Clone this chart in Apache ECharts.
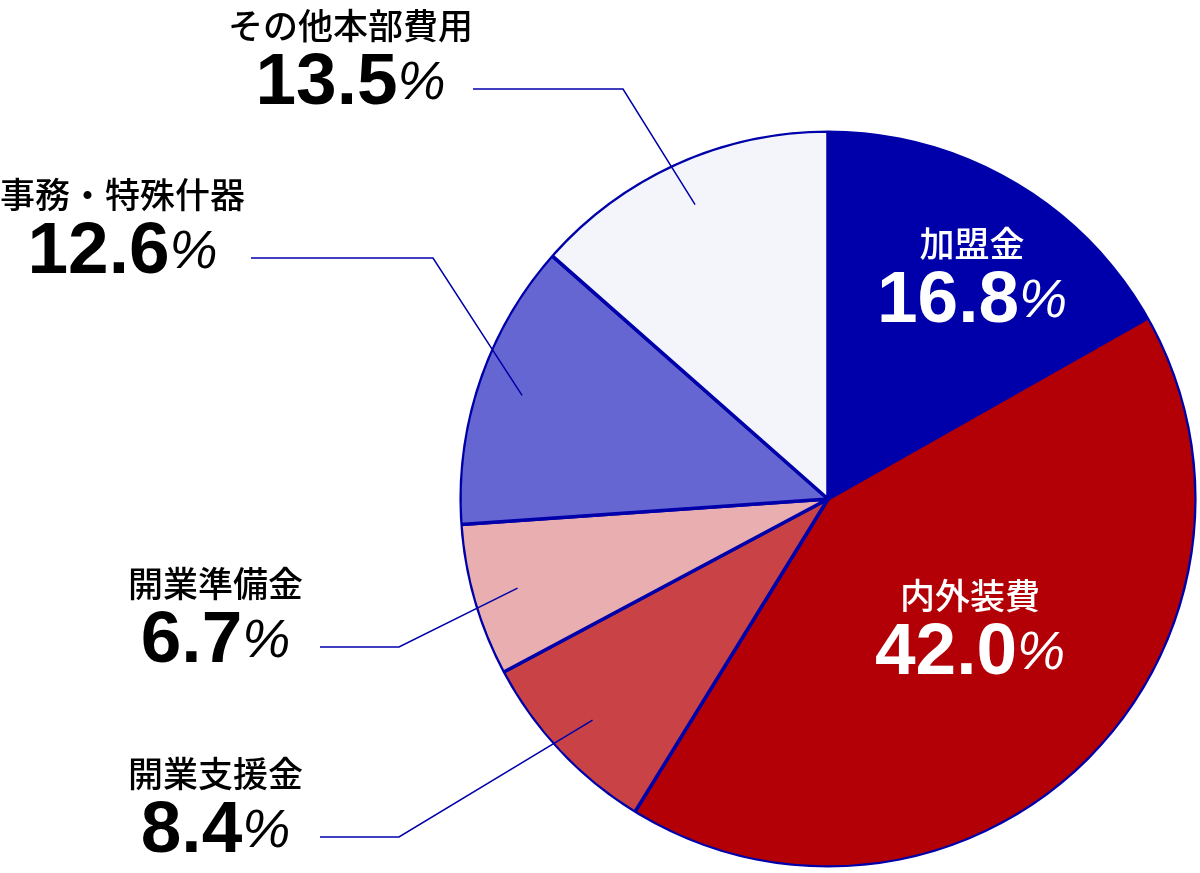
<!DOCTYPE html>
<html>
<head>
<meta charset="utf-8">
<script src="https://cdn.jsdelivr.net/npm/echarts@6/dist/echarts.min.js"></script>
</head>
<body style="margin:0; background:#fff">
<div id="container" style="width:1200px; height:873px"></div>
<script type="text/javascript">
// 費用の内訳 (%)
var names = ['加盟金', '内外装費', '開業支援金', '開業準備金', '事務・特殊什器', 'その他本部費用'];
var shares = [16.8, 42.0, 8.4, 6.7, 12.6, 13.5];
var colors = ['#0000aa', '#b20006', '#c84246', '#e8aeb0', '#6666d2', '#f4f5fa'];

// label placement (pixels)
var innerAnchors = [[972, 282], [970, 634]];
var outerAnchors = [null, null, [320, 837], [320, 647], [251, 258], [473, 89]];
var elbowLen = [0, 0, 79, 79, 182, 150];
var padRight = [0, 0, 17, 17, 6, 0];

var lineBlue = '#0000aa';
var center = [828, 499];

function fmt(p) {
    return '{n|' + p.name + '}\n{v|' + p.value.toFixed(1) + '}{p|%}';
}
function makeRich(color) {
    return {
        n: {fontFamily: 'Noto Sans CJK JP', fontSize: 35, fontWeight: 500, lineHeight: 40, align: 'center', color: color},
        v: {fontFamily: 'Liberation Sans', fontSize: 73, fontWeight: 'bold', lineHeight: 76, align: 'center', color: color},
        p: {fontFamily: 'Liberation Sans', fontSize: 54, fontStyle: 'italic', lineHeight: 76, align: 'center', color: color}
    };
}

var myChart = echarts.init(document.getElementById('container'));

var option = {
    animation: false,
    series: [
        {
            name: 'fill',
            type: 'pie',
            center: center,
            radius: 368,
            startAngle: 90,
            clockwise: true,
            avoidLabelOverlap: false,
            itemStyle: {borderColor: lineBlue, borderWidth: 3.5},
            label: {show: true, position: 'inside', color: '#fff', formatter: fmt, rich: makeRich('#fff')},
            labelLine: {show: false},
            labelLayout: function (p) {
                var a = innerAnchors[p.dataIndex];
                return a ? {x: a[0], y: a[1]} : {};
            },
            emphasis: {disabled: true},
            data: names.map(function (n, i) {
                return {name: n, value: shares[i], itemStyle: {color: colors[i]}, label: {show: i < 2}};
            })
        },
        {
            // trims the outer half of the border so the rim stays thin
            name: 'rim',
            type: 'pie',
            silent: true,
            center: center,
            radius: [368.6, 374],
            label: {show: false},
            labelLine: {show: false},
            itemStyle: {color: '#fff', borderWidth: 0},
            data: [{value: 1, name: 'rim'}]
        },
        {
            name: 'labels',
            type: 'pie',
            silent: true,
            z: 5,
            center: center,
            radius: 323,
            startAngle: 90,
            clockwise: true,
            itemStyle: {color: 'rgba(0,0,0,0)', borderWidth: 0},
            label: {
                show: true,
                position: 'outside',
                color: '#000',
                formatter: fmt,
                rich: makeRich('#000'),
                backgroundColor: 'rgba(255,255,255,0)'
            },
            labelLine: {show: true, length: 10, lineStyle: {color: lineBlue, width: 1.5}},
            labelLayout: function (p) {
                var a = outerAnchors[p.dataIndex];
                return a ? {x: a[0], y: a[1]} : {};
            },
            data: names.map(function (n, i) {
                var outside = i >= 2;
                return {
                    name: n,
                    value: shares[i],
                    label: {show: outside, padding: [0, padRight[i], 50, 0]},
                    labelLine: {show: outside, length2: elbowLen[i]}
                };
            })
        }
    ]
};
myChart.setOption(option);
</script>
</body>
</html>
